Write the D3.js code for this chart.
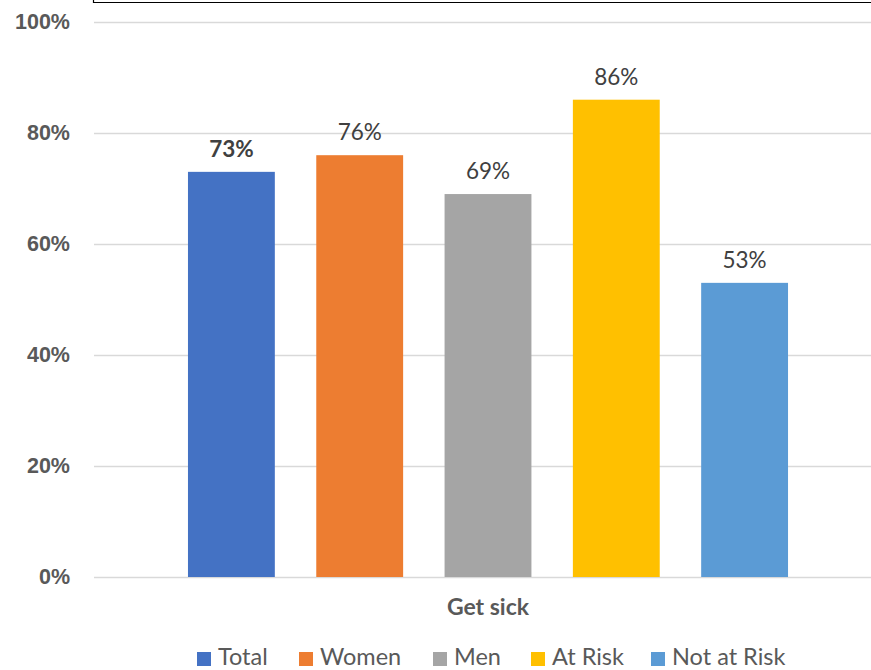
<!DOCTYPE html>
<html>
<head>
<meta charset="utf-8">
<script src="https://cdn.jsdelivr.net/npm/d3@7"></script>
<style>
  html, body { margin: 0; padding: 0; background: #fff; }
  svg { display: block; font-family: Lato, "Open Sans", sans-serif; }
</style>
</head>
<body>
<svg id="chart" width="871" height="670"></svg>
<script>
// Share who expect to get sick, by group
const category = "Get sick";
const seriesNames = ["Total", "Women", "Men", "At Risk", "Not at Risk"];
const seriesValues = [73, 76, 69, 86, 53];
const seriesColors = ["#4472C4", "#ED7D31", "#A5A5A5", "#FFC000", "#5B9BD5"];
const yTicks = [0, 20, 40, 60, 80, 100];

const svg = d3.select("#chart");

const plot = { left: 94, right: 871, top: 22, bottom: 577 };

const y = d3.scaleLinear().domain([0, 100]).range([plot.bottom, plot.top]);
const x = d3.scaleBand()
  .domain(seriesNames)
  .range([167.25, 808.75])
  .paddingInner(0.323)
  .paddingOuter(0.1615);

// frame edge at the top
svg.append("path")
  .attr("d", "M93.5,0 V2.5 H871")
  .attr("fill", "none")
  .attr("stroke", "#000")
  .attr("stroke-width", 1.2);

// gridlines + y labels
const yAxis = d3.axisLeft(y)
  .tickValues(yTicks)
  .tickSize(0)
  .tickPadding(24)
  .tickFormat(d => d + "%");

const gy = svg.append("g")
  .attr("transform", `translate(${plot.left},0)`)
  .call(yAxis);
gy.select(".domain").remove();
gy.selectAll(".tick text")
  .attr("fill", "#595959")
  .attr("font-size", 21.5)
  .attr("font-weight", "bold");

svg.append("g")
  .selectAll("line")
  .data(yTicks)
  .join("line")
  .attr("x1", plot.left)
  .attr("x2", plot.right)
  .attr("y1", d => Math.round(y(d)) + 0.5)
  .attr("y2", d => Math.round(y(d)) + 0.5)
  .attr("stroke", "#D9D9D9")
  .attr("stroke-width", 1.3);

// bars
const data = seriesNames.map((n, i) => ({ name: n, value: seriesValues[i], color: seriesColors[i] }));

svg.append("g")
  .selectAll("rect")
  .data(data)
  .join("rect")
  .attr("x", d => x(d.name))
  .attr("width", x.bandwidth())
  .attr("y", d => y(d.value))
  .attr("height", d => y(0) - y(d.value))
  .attr("fill", d => d.color);

// value labels
svg.append("g")
  .selectAll("text")
  .data(data)
  .join("text")
  .attr("x", d => x(d.name) + x.bandwidth() / 2)
  .attr("y", d => y(d.value) - 15)
  .attr("text-anchor", "middle")
  .attr("font-size", 22.5)
  .attr("font-weight", (d, i) => i === 0 ? "bold" : "normal")
  .attr("fill", "#404040")
  .text(d => d.value + "%");

// category label
svg.append("text")
  .attr("x", x("Men") + x.bandwidth() / 2)
  .attr("y", 615)
  .attr("text-anchor", "middle")
  .attr("font-size", 23)
  .attr("font-weight", "bold")
  .attr("fill", "#595959")
  .text(category);

// legend
const legendX = [197, 299, 433, 531, 651];
const legend = svg.append("g")
  .selectAll("g")
  .data(data)
  .join("g")
  .attr("transform", (d, i) => `translate(${legendX[i]},652)`);
legend.append("rect")
  .attr("width", 14)
  .attr("height", 14)
  .attr("fill", d => d.color);
legend.append("text")
  .attr("x", 21)
  .attr("y", 12.5)
  .attr("font-size", 23.5)
  .attr("fill", "#595959")
  .text(d => d.name);
</script>
</body>
</html>
